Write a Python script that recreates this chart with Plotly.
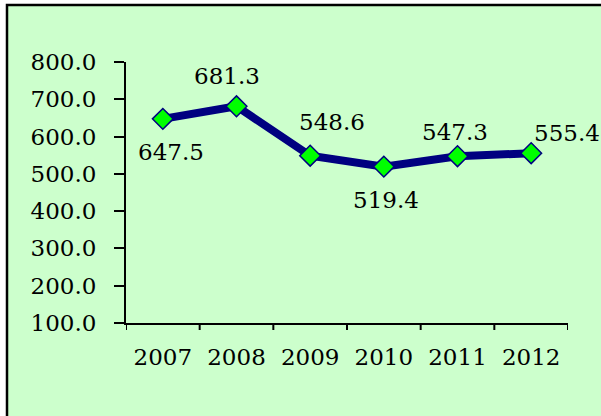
import plotly.graph_objects as go

years = ["2007", "2008", "2009", "2010", "2011", "2012"]
values = [647.5, 681.3, 548.6, 519.4, 547.3, 555.4]
# label offsets (px) around each marker
label_dx = [8, -10, 22, 2, -3, 36]
label_dy = [-33, 30, 34, -33, 24, 20]

W, H = 601, 416
L, R, T, B = 126, 33, 62, 93
pw, ph = W - L - R, H - T - B

font = dict(family="DejaVu Serif", size=23, color="#000000")

fig = go.Figure()
fig.add_trace(go.Scatter(
    x=list(range(len(years))), y=values, mode="lines+markers",
    line=dict(color="#000080", width=8),
    marker=dict(symbol="diamond", size=16, color="#00FF00",
                line=dict(color="#000080", width=1.5)),
    hoverinfo="skip", showlegend=False,
))

for i, (v, dx, dy) in enumerate(zip(values, label_dx, label_dy)):
    fig.add_annotation(x=i, y=v, text=f"{v:.1f}", showarrow=False,
                       xshift=dx, yshift=dy, font=font)

# light green panel with black frame
fig.add_shape(type="rect", xref="paper", yref="paper",
              x0=(7 - L) / pw, x1=2.0, y0=-1.0, y1=(H - B - 5) / ph,
              fillcolor="#CCFFCC", line=dict(color="black", width=2.5),
              layer="below")

fig.update_layout(
    width=W, height=H,
    margin=dict(l=L, r=R, t=T, b=B),
    paper_bgcolor="white", plot_bgcolor="rgba(0,0,0,0)",
    font=font,
    xaxis=dict(range=[-0.5, 5.5], tickvals=list(range(len(years))),
               ticktext=years, ticks="", ticklabelstandoff=12,
               showline=True, linecolor="black", linewidth=2,
               showgrid=False, zeroline=False, tickfont=font),
    yaxis=dict(range=[100, 800], dtick=100, tickformat=".1f",
               ticks="outside", ticklen=10, tickwidth=2, tickcolor="black",
               ticklabelstandoff=13,
               showline=True, linecolor="black", linewidth=2,
               showgrid=False, zeroline=False, tickfont=font),
)

# category boundary ticks under the x axis
for b in [i - 0.5 for i in range(len(years) + 1)]:
    fig.add_shape(type="line", xref="x", yref="paper", x0=b, x1=b,
                  y0=0, y1=-7 / ph, line=dict(color="black", width=2))

fig.write_html("out.html")
